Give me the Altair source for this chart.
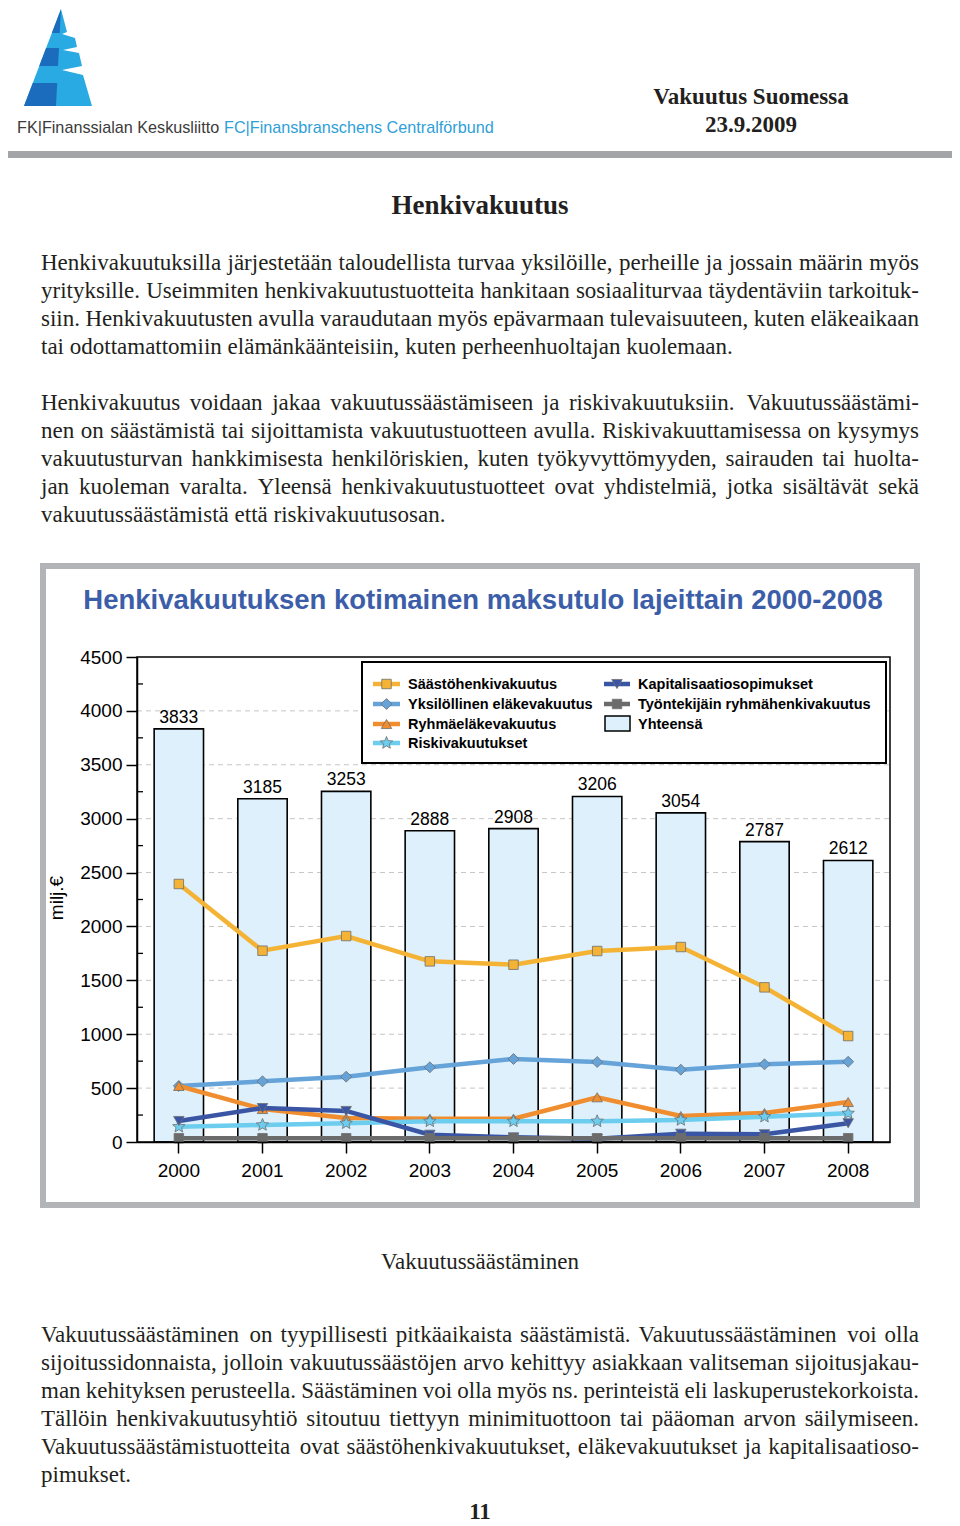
import math
import altair as alt
import pandas as pd

# ---------------- data ----------------
years = ["2000", "2001", "2002", "2003", "2004", "2005", "2006", "2007", "2008"]
totals = [3833, 3185, 3253, 2888, 2908, 3206, 3054, 2787, 2612]
saastohenki = [2394, 1775, 1911, 1676, 1645, 1772, 1809, 1435, 983]
yksilollinen = [520, 563, 606, 693, 770, 742, 671, 721, 745]
ryhmaelake = [520, 306, 223, 216, 216, 415, 241, 269, 371]
riski = [142, 158, 174, 192, 192, 192, 204, 235, 266]
kapitalisaatio = [195, 315, 288, 68, 43, 31, 77, 72, 174]
tyontekijain = [35, 35, 35, 34, 34, 34, 35, 35, 35]

series_names = ["Säästöhenkivakuutus", "Yksilöllinen eläkevakuutus", "Ryhmäeläkevakuutus",
                "Riskivakuutukset", "Kapitalisaatiosopimukset", "Työntekijäin ryhmähenkivakuutus"]
series_values = [saastohenki, yksilollinen, ryhmaelake, riski, kapitalisaatio, tyontekijain]
total_name = "Yhteensä"

y_grid_values = [500, 1000, 1500, 2000, 2500, 3000, 3500, 4000]
y_minor_values = [250, 750, 1250, 1750, 2250, 2750, 3250, 3750, 4250]
y_tick_values = [0, 500, 1000, 1500, 2000, 2500, 3000, 3500, 4000, 4500]

chart_title = "Henkivakuutuksen kotimainen maksutulo lajeittain 2000-2008"
y_title = "milj.€"

page_title = "Henkivakuutus"
para1 = ["Henkivakuutuksilla järjestetään taloudellista turvaa yksilöille, perheille ja jossain määrin myös",
         "yrityksille. Useimmiten henkivakuutustuotteita hankitaan sosiaaliturvaa täydentäviin tarkoituk-",
         "siin. Henkivakuutusten avulla varaudutaan myös epävarmaan tulevaisuuteen, kuten eläkeaikaan",
         "tai odottamattomiin elämänkäänteisiin, kuten perheenhuoltajan kuolemaan."]
para2 = ["Henkivakuutus voidaan jakaa vakuutussäästämiseen ja riskivakuutuksiin. Vakuutussäästämi-",
         "nen on säästämistä tai sijoittamista vakuutustuotteen avulla. Riskivakuuttamisessa on kysymys",
         "vakuutusturvan hankkimisesta henkilöriskien, kuten työkyvyttömyyden, sairauden tai huolta-",
         "jan kuoleman varalta. Yleensä henkivakuutustuotteet ovat yhdistelmiä, jotka sisältävät sekä",
         "vakuutussäästämistä että riskivakuutusosan."]
caption = "Vakuutussäästäminen"
para3 = ["Vakuutussäästäminen on tyypillisesti pitkäaikaista säästämistä. Vakuutussäästäminen voi olla",
         "sijoitussidonnaista, jolloin vakuutussäästöjen arvo kehittyy asiakkaan valitseman sijoitusjakau-",
         "man kehityksen perusteella. Säästäminen voi olla myös ns. perinteistä eli laskuperustekorkoista.",
         "Tällöin henkivakuutusyhtiö sitoutuu tiettyyn minimituottoon tai pääoman arvon säilymiseen.",
         "Vakuutussäästämistuotteita ovat säästöhenkivakuutukset, eläkevakuutukset ja kapitalisaatioso-",
         "pimukset."]
header1 = "Vakuutus Suomessa"
header2 = "23.9.2009"
org_fi = "FK|Finanssialan Keskusliitto"
org_sv = "FC|Finansbranschens Centralförbund"
page_no = "11"

# ---------------- styles / layout ----------------
W, H = 944, 1518
PX0, PX1 = 129, 882          # plot area (chart coords)
PY0, PY1 = 649, 1134
SANS = "Liberation Sans"
SERIF = "Liberation Serif"

_star = []
for k in range(10):
    a = math.radians(-90 + 36 * k)
    r = 1.0 if k % 2 == 0 else 0.45
    _star.append(f"{r * math.cos(a):.3f},{r * math.sin(a):.3f}")
STAR = "M" + " L".join(_star) + " Z"

styles = {
    "Säästöhenkivakuutus": ("#f5b335", "square", 90),
    "Yksilöllinen eläkevakuutus": ("#65a3d9", "diamond", 120),
    "Ryhmäeläkevakuutus": ("#f08d2f", "triangle-up", 110),
    "Riskivakuutukset": ("#6dcdef", STAR, 170),
    "Kapitalisaatiosopimukset": ("#3a55a3", "triangle-down", 110),
    "Työntekijäin ryhmähenkivakuutus": ("#6b6b6b", "square", 90),
}

one = pd.DataFrame({"k": [0]})


def vrect(x, x2, y, y2, **kw):
    return alt.Chart(one).mark_rect(**kw).encode(
        x=alt.value(x), x2=alt.value(x2), y=alt.value(y), y2=alt.value(y2))


def vtext(txt, x, y, **kw):
    return alt.Chart(one).mark_text(text=txt, **kw).encode(x=alt.value(x), y=alt.value(y))


# ---------------- justified body text ----------------
TW = {' ': 250, ',': 250, '.': 250, '-': 333, ':': 278, 'a': 444, 'b': 500, 'c': 444, 'd': 500,
      'e': 444, 'f': 333, 'g': 500, 'h': 500, 'i': 278, 'j': 278, 'k': 500, 'l': 278, 'm': 778,
      'n': 500, 'o': 500, 'p': 500, 'q': 500, 'r': 333, 's': 389, 't': 278, 'u': 500, 'v': 500,
      'w': 722, 'x': 500, 'y': 500, 'z': 444, 'ä': 444, 'ö': 500, 'å': 444, 'A': 722, 'H': 722,
      'R': 667, 'S': 556, 'T': 611, 'U': 722, 'V': 722, 'Y': 722}
FS = 23
LINE_L, LINE_R = 33, 911


def tw(s):
    return sum(TW.get(c, 500) for c in s) * FS / 1000.0


def words_for(lines, y0, step=28):
    rows = []
    for i, line in enumerate(lines):
        y = y0 + i * step
        ws = line.split(" ")
        justify = i < len(lines) - 1 and len(ws) > 1
        if justify:
            gap = (LINE_R - LINE_L - sum(tw(w) for w in ws)) / (len(ws) - 1)
        else:
            gap = tw(" ")
        x = LINE_L
        for j, w in enumerate(ws):
            if justify and j == len(ws) - 1:
                rows.append({"word": w, "px": LINE_R, "py": y, "al": "right"})
            else:
                rows.append({"word": w, "px": x, "py": y, "al": "left"})
            x += tw(w) + gap
    return rows


words = pd.DataFrame(words_for(para1, 262) + words_for(para2, 402) + words_for(para3, 1334))
word_layers = []
for al in ["left", "right"]:
    word_layers.append(
        alt.Chart(words[words["al"] == al]).mark_text(
            align=al, baseline="alphabetic", font=SERIF, fontSize=FS, color="#231f20").encode(
            x=alt.X("px:Q", scale=None, axis=None),
            y=alt.Y("py:Q", scale=None, axis=None),
            text="word:N"))

# ---------------- logo ----------------
LCX, LCY, LH = 50, 49.5, 50.0   # centre (chart coords) and half size


def poly(pts):
    return "M" + " L".join(f"{(x - 8 - LCX) / LH:.3f},{(y - 8 - LCY) / LH:.3f}" for x, y in pts) + " Z"


def xl(y):
    return 61 - 37 * (y - 9) / 97


def xm(y):
    return 61 - 5 * (y - 9) / 97


logo_light = poly([(61, 9), (67, 32), (62, 34), (75, 38), (77, 47), (63, 50), (79, 53), (82, 66),
                   (62, 70), (83, 75), (92, 106), (24, 106)])
logo_dark = [poly([(61, 9), (xl(33), 33), (xm(33), 33)]),
             poly([(xl(48), 48), (xl(66), 66), (xm(66), 66), (xm(48), 48)]),
             poly([(xl(83), 83), (xl(106), 106), (xm(106), 106), (xm(83), 83)])]

logo_layers = [alt.Chart(one).mark_point(shape=logo_light, size=(2 * LH) ** 2, filled=True,
                                         fill="#2aaae2", opacity=1, strokeWidth=0).encode(
    x=alt.value(LCX), y=alt.value(LCY))]
for p in logo_dark:
    logo_layers.append(alt.Chart(one).mark_point(shape=p, size=(2 * LH) ** 2, filled=True,
                                                 fill="#1c6cbd", opacity=1, strokeWidth=0).encode(
        x=alt.value(LCX), y=alt.value(LCY)))

# ---------------- chart ----------------
xsc = alt.Scale(domain=years, range=[PX0, PX1], paddingInner=0.41, paddingOuter=0.205)
ysc = alt.Scale(domain=[0, 4500], range=[PY1, PY0], nice=False, zero=True)
xax = alt.Axis(orient="bottom", offset=-(H - PY1), labelAngle=0, labelFont=SANS, labelFontSize=19,
               labelColor="black", labelPadding=8, tickSize=11, tickColor="black", tickWidth=1.5,
               domainColor="black", domainWidth=1.5, grid=False, title=None, zindex=1)
yax = alt.Axis(orient="left", offset=-PX0, values=y_tick_values, format="d", labelFont=SANS,
               labelFontSize=19, labelColor="black", labelPadding=4, labelFlush=False,
               labelOverlap=False, tickSize=11, tickColor="black", tickWidth=1.5,
               domainColor="black", domainWidth=1.5, grid=False, title=None, zindex=1)
X = alt.X("year:O", scale=xsc, axis=xax)
Y = alt.Y("value:Q", scale=ysc, axis=yax)

tot_df = pd.DataFrame({"year": years, "value": totals})

grid = alt.Chart(pd.DataFrame({"value": y_grid_values})).mark_rule(
    color="#c6c6c6", strokeDash=[5, 4], strokeWidth=1).encode(
    y=Y, x=alt.value(PX0), x2=alt.value(PX1))
minor = alt.Chart(pd.DataFrame({"value": y_minor_values})).mark_rule(
    color="black", strokeWidth=1.3).encode(y=Y, x=alt.value(PX0), x2=alt.value(PX0 + 6))
bars = alt.Chart(tot_df).mark_bar(fill="#ddf0fb", stroke="black", strokeWidth=1.6).encode(x=X, y=Y)
bar_labels = alt.Chart(tot_df).mark_text(dy=-6, baseline="alphabetic", font=SANS, fontSize=17.5,
                                         color="black").encode(
    x=X, y=Y, text=alt.Text("value:Q", format="d"))
frame = vrect(PX0, PX1, PY0, PY1, fillOpacity=0, stroke="black", strokeWidth=1.5)

series_layers = []
for name, vals in zip(series_names, series_values):
    col, shp, sz = styles[name]
    d = pd.DataFrame({"year": years, "value": vals})
    series_layers.append(alt.Chart(d).mark_line(color=col, strokeWidth=4.5).encode(x=X, y=Y))
    series_layers.append(alt.Chart(d).mark_point(shape=shp, size=sz, filled=True, fill=col,
                                                 opacity=1, stroke="#6f6f6f", strokeWidth=0.8).encode(x=X, y=Y))

# ---------------- legend ----------------
legend_layers = [vrect(354, 878, 654, 755, fill="white", stroke="black", strokeWidth=2)]
col1 = ["Säästöhenkivakuutus", "Yksilöllinen eläkevakuutus", "Ryhmäeläkevakuutus", "Riskivakuutukset"]
col2 = ["Kapitalisaatiosopimukset", "Työntekijäin ryhmähenkivakuutus"]
row_y = [676, 696, 716, 735]
for names, sx0, sx1, tx in [(col1, 365, 392, 400), (col2, 596, 622, 630)]:
    for i, nm in enumerate(names):
        col, shp, sz = styles[nm]
        yy = row_y[i]
        legend_layers.append(alt.Chart(one).mark_rule(color=col, strokeWidth=4.5).encode(
            x=alt.value(sx0), x2=alt.value(sx1), y=alt.value(yy)))
        legend_layers.append(alt.Chart(one).mark_point(shape=shp, size=sz, filled=True, fill=col,
                                                       opacity=1, stroke="#6f6f6f", strokeWidth=0.8).encode(
            x=alt.value((sx0 + sx1) / 2), y=alt.value(yy)))
        legend_layers.append(vtext(nm, tx, yy + 1, align="left", baseline="middle", font=SANS,
                                   fontSize=14.5, fontWeight="bold", color="black"))
legend_layers.append(vrect(597, 622, 708, 723, fill="#ddf0fb", stroke="black", strokeWidth=1.5))
legend_layers.append(vtext(total_name, 630, 717, align="left", baseline="middle", font=SANS,
                           fontSize=14.5, fontWeight="bold", color="black"))

# ---------------- page decorations ----------------
page_layers = [
    vrect(0, W, 143, 150, fill="#a3a5a8"),
    vtext(org_fi, 9, 125, align="left", baseline="alphabetic", font=SANS, fontSize=16.2, color="#3b3b3b"),
    vtext(org_sv, 216, 125, align="left", baseline="alphabetic", font=SANS, fontSize=16.2, color="#2f9fd8"),
    vtext(header1, 743, 96, align="center", baseline="alphabetic", font=SERIF, fontSize=23,
          fontWeight="bold", color="#231f20"),
    vtext(header2, 743, 124, align="center", baseline="alphabetic", font=SERIF, fontSize=23,
          fontWeight="bold", color="#231f20"),
    vtext(page_title, 472, 206, align="center", baseline="alphabetic", font=SERIF, fontSize=27,
          fontWeight="bold", color="#231f20"),
    vtext(caption, 472, 1261, align="center", baseline="alphabetic", font=SERIF, fontSize=23,
          color="#231f20"),
    vtext(page_no, 472, 1511, align="center", baseline="alphabetic", font=SERIF, fontSize=23,
          fontWeight="bold", color="#231f20"),
    vrect(35, 909, 558, 1197, fill="white", stroke="#b3b4b7", strokeWidth=6),
    vtext(chart_title, 475, 601, align="center", baseline="alphabetic", font=SANS, fontSize=27.5,
          fontWeight="bold", color="#3c5ea9"),
    vtext(y_title, 49, 890, align="center", baseline="middle", font=SANS, fontSize=19, angle=270,
          color="black"),
]

chart = alt.layer(
    *page_layers, *logo_layers, *word_layers,
    grid, bars, minor, frame, bar_labels, *series_layers, *legend_layers,
).properties(
    width=W, height=H, padding=0, background="white",
    autosize=alt.AutoSizeParams(type="none")
).configure_view(stroke=None)

chart.save("out.html", embed_options={"renderer": "svg", "actions": False})
